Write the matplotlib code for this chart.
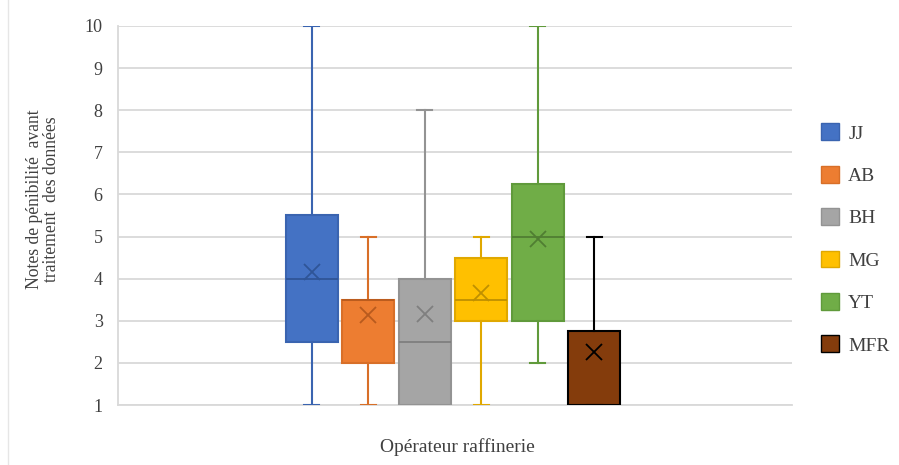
import matplotlib.pyplot as plt
from matplotlib.patches import Patch

plt.rcParams['font.family'] = ['Liberation Serif', 'DejaVu Serif']

operators = ['JJ', 'AB', 'BH', 'MG', 'YT', 'MFR']
whis_low = [1, 1, 1, 1, 2, 1]
q1 = [2.5, 2, 1, 3, 3, 1]
medians = [4, 3.5, 2.5, 3.5, 5, 1]
q3 = [5.5, 3.5, 4, 4.5, 6.25, 2.75]
whis_high = [10, 5, 8, 5, 10, 5]
means = [4.17, 3.13, 3.15, 3.65, 4.95, 2.27]

fills = ['#4472C4', '#ED7D31', '#A5A5A5', '#FFC000', '#70AD47', '#843C0C']
edges = ['#3A64B0', '#D86F28', '#939393', '#E0A800', '#609A3B', '#000000']
darks = ['#2F5597', '#B85A1E', '#7F7F7F', '#BF9000', '#507E32', '#000000']

fig = plt.figure(figsize=(8.99, 4.65), dpi=100)
ax = fig.add_axes([118 / 899, 1 - 405 / 465, (792 - 118) / 899, (405 - 26) / 465])

stats = []
for i, name in enumerate(operators):
    stats.append(dict(label=name, whislo=whis_low[i], q1=q1[i], med=medians[i],
                      q3=q3[i], whishi=whis_high[i], mean=means[i]))

pos = list(range(len(operators)))
for i in range(len(operators)):
    ax.bxp([stats[i]], positions=[pos[i]], widths=0.92, capwidths=0.27,
           patch_artist=True, showmeans=True, showfliers=False,
           boxprops=dict(facecolor=fills[i], edgecolor=edges[i], linewidth=1.5),
           medianprops=dict(color=darks[i], linewidth=1.3),
           whiskerprops=dict(color=edges[i], linewidth=1.5),
           capprops=dict(color=edges[i], linewidth=1.5),
           meanprops=dict(marker='x', markeredgecolor=darks[i], markersize=11,
                          markeredgewidth=1.3),
           zorder=3)

ax.set_xlim(-3.43, 8.5)
ax.set_ylim(1, 10)
ax.set_yticks(range(1, 11))
ax.set_xticks([])
ax.tick_params(axis='y', length=0, labelsize=13, colors='#404040', pad=11)
ax.yaxis.grid(True, color='#D9D9D9', linewidth=1.3)
ax.set_axisbelow(True)
for side in ['top', 'right']:
    ax.spines[side].set_visible(False)
ax.spines['left'].set_color('#D9D9D9')
ax.spines['bottom'].set_color('#D9D9D9')
ax.spines['left'].set_linewidth(1.3)
ax.spines['bottom'].set_linewidth(1.3)

fig.text(43 / 899, 1 - 199 / 465, 'Notes de pénibilité  avant\ntraitement  des données',
         rotation=90, ha='center', va='center', fontsize=12.7, color='#404040',
         linespacing=1.0)
fig.text(457 / 899, 1 - 447 / 465, 'Opérateur raffinerie', ha='center', va='center',
         fontsize=14, color='#404040')

handles = [Patch(facecolor=fills[i], edgecolor=edges[i], linewidth=1)
           for i in range(len(operators))]
fig.legend(handles, operators, loc='center left', bbox_to_anchor=(821 / 899, 1 - 239 / 465),
           frameon=False, fontsize=14, handlelength=0.95, handleheight=0.95,
           labelspacing=1.2, handletextpad=0.45, labelcolor='#404040',
           borderaxespad=0, borderpad=0)

fig.add_artist(plt.Line2D([8 / 899, 8 / 899], [0, 1], color='#E6E6E6', linewidth=1,
                          transform=fig.transFigure))

fig.savefig('out.png', dpi=100)
